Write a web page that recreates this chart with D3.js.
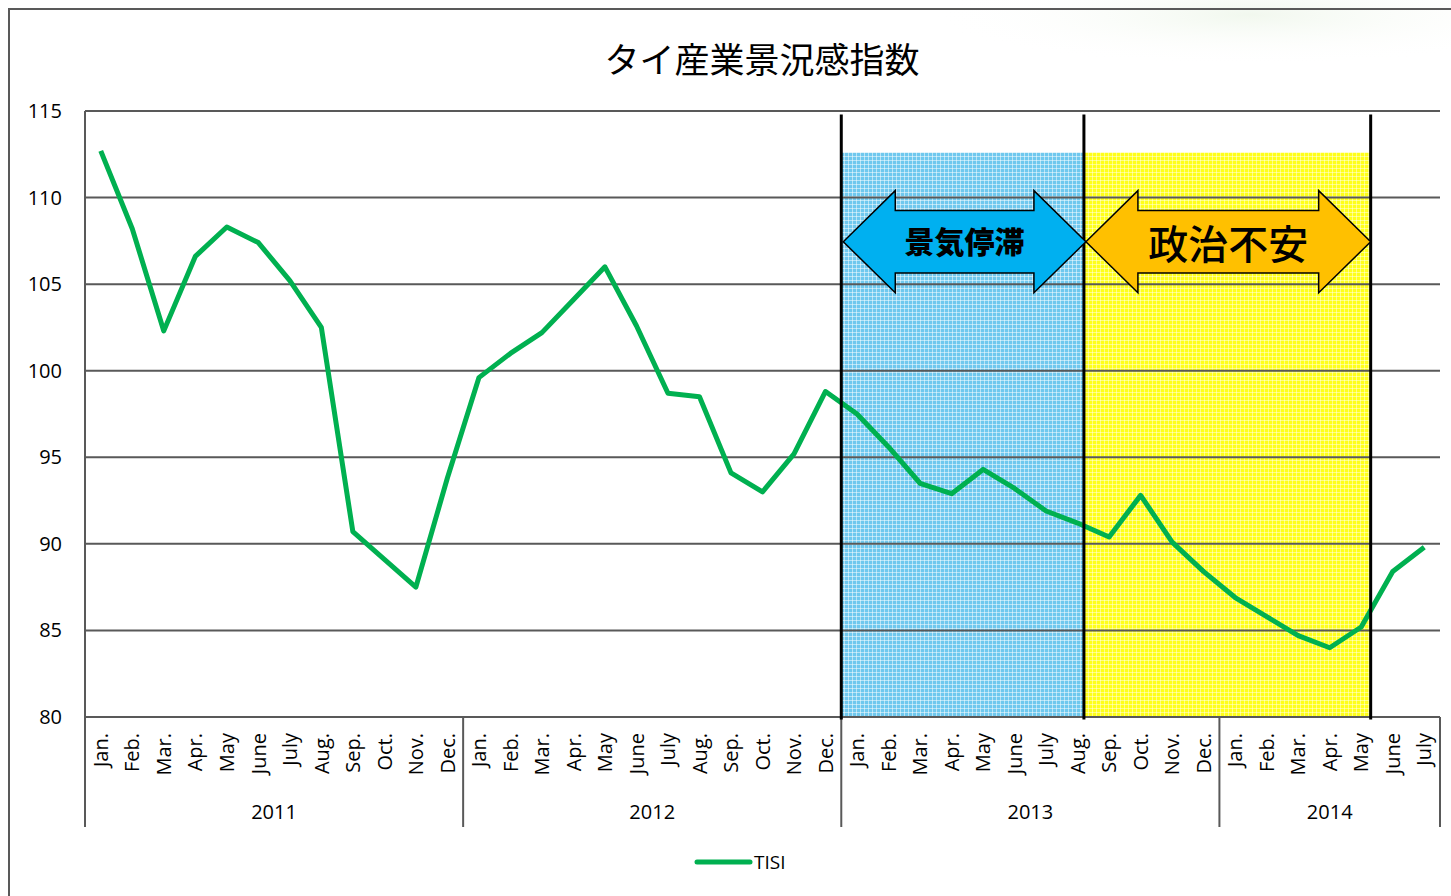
<!DOCTYPE html>
<html>
<head>
<meta charset="utf-8">
<script src="https://cdn.jsdelivr.net/npm/d3@7"></script>
<style>
  body { margin: 0; background: #fff; }
  svg { display: block; }
</style>
</head>
<body>
<div id="chart-area"></div>
<script>
// DATA
var monthNames = ["Jan.", "Feb.", "Mar.", "Apr.", "May", "June", "July", "Aug.", "Sep.", "Oct.", "Nov.", "Dec."];
var years = [2011, 2012, 2013, 2014];
var monthsPerYear = [12, 12, 12, 7];
var tisi = [
  112.7, 108.2, 102.3, 106.6, 108.3, 107.4, 105.2, 102.5, 90.7, 89.1, 87.5, 93.8,
  99.6, 101.0, 102.2, 104.1, 106.0, 102.6, 98.7, 98.5, 94.1, 93.0, 95.2, 98.8,
  97.5, 95.6, 93.5, 92.9, 94.3, 93.2, 91.9, 91.2, 90.4, 92.8, 90.1, 88.4,
  86.9, 85.8, 84.7, 84.0, 85.2, 88.4, 89.8
];
var yTicks = [80, 85, 90, 95, 100, 105, 110, 115];
// periods in month units (index 0 = Jan 2011)
var periodLabels = ["景気停滞", "政治不安"];
var periodStart = [24, 31.7];
var periodEnd = [31.7, 40.8];
var periodColors = ["#00b0f0", "#ffc000"];

// monthly labels built from the arrays
var labels = [];
years.forEach(function(yr, i) {
  for (var m = 0; m < monthsPerYear[i]; m++) labels.push({ year: yr, month: monthNames[m] });
});

var W = 1451, H = 896;
var margin = { left: 85, right: 11, top: 111, bottom: 179 };

var svg = d3.select("#chart-area")
  .append("svg")
    .attr("width", W)
    .attr("height", H);

var defs = svg.append("defs");

// faint green glow top right
var glow = defs.append("radialGradient").attr("id", "glow")
  .attr("cx", "0.5").attr("cy", "0.5").attr("r", "0.5");
glow.append("stop").attr("offset", "0%").attr("stop-color", "#eef6ea").attr("stop-opacity", 0.8);
glow.append("stop").attr("offset", "100%").attr("stop-color", "#ffffff").attr("stop-opacity", 0);
svg.append("ellipse")
  .attr("cx", 1250).attr("cy", 15).attr("rx", 320).attr("ry", 50)
  .attr("fill", "url(#glow)");

// hatch patterns for the shaded periods
function makePattern(id, base, lineOpacity) {
  var p = defs.append("pattern")
    .attr("id", id)
    .attr("width", 4).attr("height", 4)
    .attr("patternUnits", "userSpaceOnUse");
  p.append("rect").attr("width", 4).attr("height", 4).attr("fill", base);
  p.append("rect").attr("width", 4).attr("height", 1).attr("fill", "#fff").attr("opacity", lineOpacity);
  p.append("rect").attr("width", 1).attr("height", 4).attr("fill", "#fff").attr("opacity", lineOpacity);
}
makePattern("shade0", "#6fc8ee", 0.5);
makePattern("shade1", "#ffff1a", 0.45);

// outer frame
svg.append("rect")
  .attr("x", 9).attr("y", 9)
  .attr("width", W + 20).attr("height", H + 20)
  .attr("fill", "none")
  .attr("stroke", "#595959")
  .attr("stroke-width", 2);

// TITLE
svg.append("text")
  .attr("x", 762)
  .attr("y", 73)
  .attr("text-anchor", "middle")
  .attr("font-family", "'Noto Sans CJK JP', sans-serif")
  .attr("font-size", "35px")
  .attr("font-weight", 400)
  .attr("fill", "#000")
  .text("タイ産業景況感指数");

// SCALES
var x = d3.scaleBand()
  .domain(d3.range(tisi.length))
  .range([margin.left, W - margin.right])
  .padding(0);

var y = d3.scaleLinear()
  .domain([80, 115])
  .range([H - margin.bottom, margin.top]);

function xPos(v) { return x.range()[0] + v * x.step(); }
function xMid(i) { return x(i) + x.bandwidth() / 2; }

var g = svg.append("g");

// SHADED PERIODS
periodLabels.forEach(function(lbl, i) {
  g.append("rect")
    .attr("x", xPos(periodStart[i]))
    .attr("y", y(112.6))
    .attr("width", xPos(periodEnd[i]) - xPos(periodStart[i]))
    .attr("height", y(80) - y(112.6))
    .attr("fill", "url(#shade" + i + ")");
});

// GRIDLINES
g.selectAll(".grid")
  .data(yTicks)
  .enter().append("line")
    .attr("x1", x.range()[0])
    .attr("x2", x.range()[1])
    .attr("y1", function(d) { return y(d); })
    .attr("y2", function(d) { return y(d); })
    .attr("stroke", "#595959")
    .attr("stroke-width", 2);

// Y AXIS line
g.append("line")
  .attr("x1", x.range()[0]).attr("x2", x.range()[0])
  .attr("y1", y(115)).attr("y2", y(80))
  .attr("stroke", "#595959").attr("stroke-width", 2);

// Y labels
g.selectAll(".ylab")
  .data(yTicks)
  .enter().append("text")
    .attr("x", 62)
    .attr("y", function(d) { return y(d); })
    .attr("dy", "0.35em")
    .attr("text-anchor", "end")
    .attr("font-family", "'Open Sans', sans-serif")
    .attr("font-size", "20px")
    .attr("fill", "#000")
    .text(function(d) { return d; });

// X AXIS: month labels
g.selectAll(".mlab")
  .data(labels)
  .enter().append("text")
    .attr("transform", function(d, i) { return "translate(" + xMid(i) + ",733) rotate(-90)"; })
    .attr("dy", "0.36em")
    .attr("text-anchor", "end")
    .attr("font-family", "'Open Sans', sans-serif")
    .attr("font-size", "20px")
    .attr("fill", "#000")
    .text(function(d) { return d.month; });

// year separators + year labels
var cum = 0;
var yearBounds = [0];
monthsPerYear.forEach(function(n) { cum += n; yearBounds.push(cum); });

g.selectAll(".ysep")
  .data(yearBounds)
  .enter().append("line")
    .attr("x1", function(d) { return xPos(d); })
    .attr("x2", function(d) { return xPos(d); })
    .attr("y1", y(80))
    .attr("y2", 827)
    .attr("stroke", "#595959")
    .attr("stroke-width", 2);

g.selectAll(".ylabel")
  .data(years)
  .enter().append("text")
    .attr("x", function(d, i) { return (xPos(yearBounds[i]) + xPos(yearBounds[i + 1])) / 2; })
    .attr("y", 819)
    .attr("text-anchor", "middle")
    .attr("font-family", "'Open Sans', sans-serif")
    .attr("font-size", "20px")
    .attr("fill", "#000")
    .text(function(d) { return d; });

// LINE
var line = d3.line()
  .x(function(d, i) { return xMid(i); })
  .y(function(d) { return y(d); });

g.append("path")
  .datum(tisi)
  .attr("d", line)
  .attr("fill", "none")
  .attr("stroke", "#00b050")
  .attr("stroke-width", 5)
  .attr("stroke-linejoin", "round");

// period boundary lines (black)
var bounds = [periodStart[0], periodStart[1], periodEnd[1]];
g.selectAll(".pline")
  .data(bounds)
  .enter().append("line")
    .attr("x1", function(d) { return xPos(d); })
    .attr("x2", function(d) { return xPos(d); })
    .attr("y1", y(114.8))
    .attr("y2", y(79.85))
    .attr("stroke", "#000")
    .attr("stroke-width", 3);

// DOUBLE ARROWS
var arrowMid = 107.45, headHalf = 2.95, bodyHalf = 1.8, headLen = 52;
periodLabels.forEach(function(lbl, i) {
  var x0 = xPos(periodStart[i]) + 2, x1 = xPos(periodEnd[i]) + (i === 0 ? 2 : 0);
  var pts = [
    [x0, y(arrowMid)],
    [x0 + headLen, y(arrowMid + headHalf)],
    [x0 + headLen, y(arrowMid + bodyHalf)],
    [x1 - headLen, y(arrowMid + bodyHalf)],
    [x1 - headLen, y(arrowMid + headHalf)],
    [x1, y(arrowMid)],
    [x1 - headLen, y(arrowMid - headHalf)],
    [x1 - headLen, y(arrowMid - bodyHalf)],
    [x0 + headLen, y(arrowMid - bodyHalf)],
    [x0 + headLen, y(arrowMid - headHalf)]
  ];
  g.append("polygon")
    .attr("points", pts.map(function(p) { return p.join(","); }).join(" "))
    .attr("fill", periodColors[i])
    .attr("stroke", "#000")
    .attr("stroke-width", 1.5)
    .attr("stroke-linejoin", "miter");

  g.append("text")
    .attr("x", (x0 + x1) / 2)
    .attr("y", y(arrowMid))
    .attr("dy", i === 0 ? "0.36em" : "0.42em")
    .attr("text-anchor", "middle")
    .attr("font-family", "'Noto Sans CJK JP', sans-serif")
    .attr("font-size", i === 0 ? "30px" : "40px")
    .attr("font-weight", i === 0 ? 900 : 500)
    .attr("fill", "#000")
    .text(lbl);
});

// LEGEND
var legend = svg.append("g").attr("transform", "translate(697,862)");
legend.append("line")
  .attr("x1", 0).attr("x2", 53)
  .attr("y1", 0).attr("y2", 0)
  .attr("stroke", "#00b050")
  .attr("stroke-width", 5)
  .attr("stroke-linecap", "round");
legend.append("text")
  .attr("x", 57)
  .attr("y", 0)
  .attr("dy", "0.36em")
  .attr("font-family", "'Open Sans', sans-serif")
  .attr("font-size", "19px")
  .attr("fill", "#000")
  .text("TISI");
</script>
</body>
</html>
